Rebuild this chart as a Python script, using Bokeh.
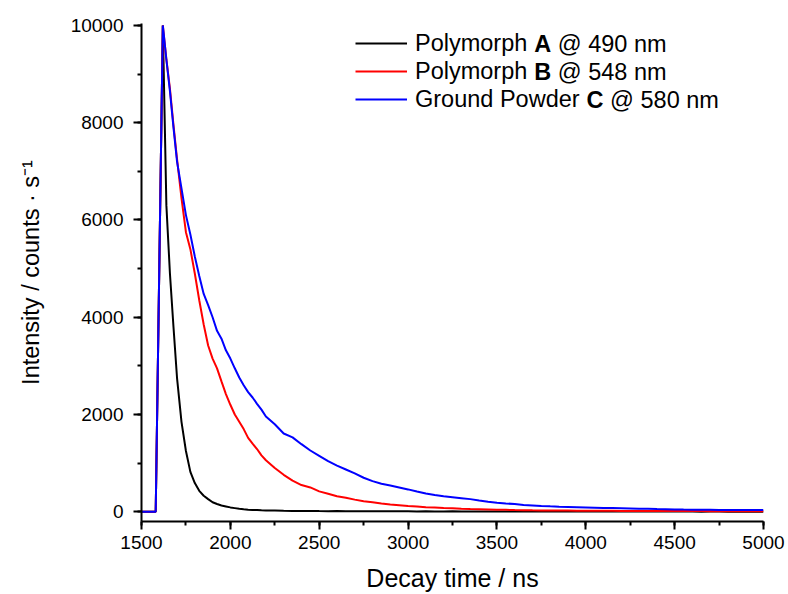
from bokeh.plotting import figure
from bokeh.models import (Range1d, SingleIntervalTicker, Legend, LegendItem, Label,
                          ColumnDataSource)
from bokeh.embed import file_html
from bokeh.resources import INLINE

# ---------------- data ----------------
time_ns = [1500, 1580, 1620, 1640, 1660, 1680, 1700,
           1725, 1750, 1775, 1800, 1825, 1850, 1875, 1900, 1925, 1950,
           1975, 2000, 2025, 2050, 2075, 2100, 2125, 2150, 2175, 2200,
           2250, 2300, 2350, 2400, 2450, 2500, 2550, 2600, 2650, 2700,
           2750, 2800, 2850, 2900, 2950, 3000, 3050, 3100, 3150, 3200,
           3250, 3300, 3350, 3400, 3450, 3500, 3550, 3600, 3650, 3700,
           3750, 3800, 3850, 3900, 3950, 4000, 4050, 4100, 4150, 4200,
           4250, 4300, 4350, 4400, 4450, 4500, 4550, 4600, 4650, 4700,
           4750, 4800, 4850, 4900, 4950, 5000]

polymorph_A = [0, 0, 10000, 6300, 4900, 3800, 2750,
               1850, 1250, 820, 590, 430, 330, 260, 195, 160, 130,
               110, 90, 75, 60, 50, 42, 38, 35, 30, 28,
               24, 20, 18, 16, 17, 14, 13, 15, 12, 11,
               13, 10, 11, 9, 10, 9, 8, 10, 8, 7,
               9, 8, 7, 8, 6, 7, 8, 6, 7, 6,
               5, 7, 6, 5, 6, 5, 6, 5, 4, 5,
               6, 4, 5, 4, 5, 4, 4, 5, 3, 4,
               4, 3, 4, 3, 4, 3]

polymorph_B = [0, 0, 10000, 9300, 8700, 7950, 7250,
               6450, 5750, 5400, 4900, 4350, 3850, 3420, 3150, 2950, 2680,
               2420, 2200, 2000, 1850, 1700, 1520, 1400, 1290, 1160, 1060,
               900, 760, 640, 550, 500, 420, 370, 320, 290, 250,
               215, 195, 170, 150, 135, 120, 110, 95, 88, 78,
               70, 62, 55, 50, 45, 40, 40, 35, 33, 30,
               28, 27, 25, 24, 22, 22, 21, 20, 19, 18,
               18, 17, 17, 16, 15, 16, 15, 14, 14, 13,
               13, 13, 12, 12, 12, 12]

powder_C = [0, 0, 10000, 9300, 8650, 7900, 7200,
            6650, 6100, 5700, 5250, 4850, 4480, 4250, 4000, 3720, 3560,
            3320, 3150, 2950, 2760, 2600, 2460, 2350, 2220, 2100, 1960,
            1800, 1610, 1530, 1390, 1260, 1150, 1040, 950, 870, 790,
            700, 630, 575, 540, 500, 460, 415, 375, 345, 320,
            300, 280, 260, 230, 205, 185, 170, 160, 140, 130,
            120, 112, 105, 100, 95, 90, 85, 80, 76, 72,
            68, 62, 60, 55, 52, 48, 45, 43, 41, 40,
            38, 37, 36, 35, 34, 35]

series_names = ["Polymorph", "Polymorph", "Ground Powder"]
series_bold = ["A", "B", "C"]
series_tail = ["@ 490 nm", "@ 548 nm", "@ 580 nm"]
series_colors = ["#000000", "#ff0000", "#0000ff"]

x_ticks_interval = 500
y_ticks_interval = 2000

assert len(time_ns) == len(polymorph_A) == len(polymorph_B) == len(powder_C)

# ---------------- figure ----------------
FONT = "Liberation Sans"

p = figure(width=788, height=594, output_backend="svg", toolbar_location=None,
           x_range=Range1d(1500, 5000), y_range=Range1d(-200, 10040),
           min_border_left=141, min_border_right=25, min_border_top=23,
           min_border_bottom=73)
p.outline_line_color = None
p.xgrid.visible = False
p.ygrid.visible = False
p.background_fill_color = "white"
p.border_fill_color = "white"

src = ColumnDataSource(dict(t=time_ns, a=polymorph_A, b=polymorph_B, c=powder_C))
renderers = []
for col, color in zip(["a", "b", "c"], series_colors):
    r = p.line("t", col, source=src, line_color=color, line_width=2)
    renderers.append(r)

p.xaxis.ticker = SingleIntervalTicker(interval=x_ticks_interval, num_minor_ticks=2)
p.yaxis.ticker = SingleIntervalTicker(interval=y_ticks_interval, num_minor_ticks=2)

for ax in (p.xaxis[0], p.yaxis[0]):
    ax.axis_line_width = 2
    ax.axis_line_color = "black"
    ax.major_tick_in = 0
    ax.major_tick_out = 8
    ax.minor_tick_in = 0
    ax.minor_tick_out = 4
    ax.major_tick_line_width = 2
    ax.minor_tick_line_width = 2
    ax.major_tick_line_color = "black"
    ax.minor_tick_line_color = "black"
    ax.major_label_text_font = FONT
    ax.major_label_text_font_size = "19px"
    ax.major_label_text_color = "black"
    ax.axis_label_text_font = FONT
    ax.axis_label_text_font_style = "normal"
    ax.axis_label_text_color = "black"

p.xaxis.major_label_standoff = 6
p.yaxis.major_label_standoff = 10
p.xaxis.axis_label = "Decay time / ns"
p.xaxis.axis_label_text_font_size = "25px"
p.xaxis.axis_label_standoff = 12
p.yaxis.axis_label = "Intensity / counts \u00b7 s\u207b\u00b9"
p.yaxis.axis_label_text_font_size = "23.5px"
p.yaxis.axis_label_standoff = 24

# ---------------- legend ----------------
LEG_FS = 23.5
items = [LegendItem(label=n, renderers=[r]) for n, r in zip(series_names, renderers)]
legend = Legend(items=items, location=(214, 408), orientation="vertical",
                glyph_width=52, glyph_height=28, label_height=28, label_standoff=8,
                spacing=0, padding=0, margin=0, border_line_color=None,
                background_fill_alpha=0, label_text_font=FONT,
                label_text_font_size=f"{LEG_FS}px", label_text_color="black")
p.add_layout(legend)

# Arial / Liberation Sans advance widths (em) for layout of the mixed-weight legend text
REG = {" ": .278, "P": .667, "o": .556, "l": .222, "y": .5, "m": .833, "r": .333,
       "p": .556, "h": .556, "G": .778, "u": .556, "n": .556, "d": .556, "w": .722,
       "e": .556}
BOLD = {"A": .722, "B": .722, "C": .722}

def width(s, table):
    return sum(table.get(ch, .556) for ch in s) * LEG_FS

text_x0 = 214 + 52 + 8
row_top = 408 + 28 * 3
for i, (name, bold, tail) in enumerate(zip(series_names, series_bold, series_tail)):
    cy = row_top - 14 - 28 * i
    bx = text_x0 + width(name + " ", REG)
    tx = bx + width(bold, BOLD) + width(" ", REG)
    p.add_layout(Label(x=bx, y=cy, x_units="screen", y_units="screen", text=bold,
                       text_font=FONT, text_font_size=f"{LEG_FS}px",
                       text_font_style="bold", text_baseline="middle",
                       text_color="black"))
    p.add_layout(Label(x=tx, y=cy, x_units="screen", y_units="screen", text=tail,
                       text_font=FONT, text_font_size=f"{LEG_FS}px",
                       text_baseline="middle", text_color="black"))

open("out.html", "w").write(file_html(p, INLINE))
